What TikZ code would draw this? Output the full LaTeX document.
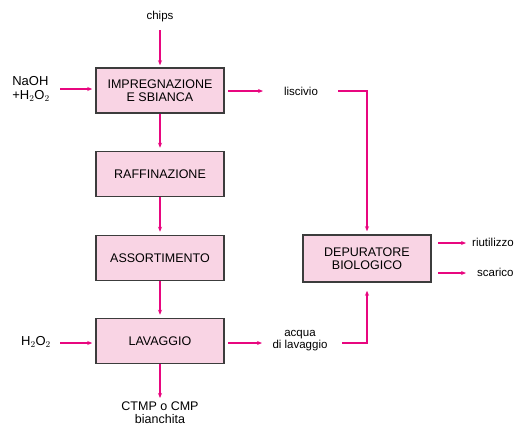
\documentclass[tikz,border=0pt]{standalone}
\usepackage{fontspec}
\setmainfont{Liberation Sans}
\usetikzlibrary{arrows.meta}
\definecolor{boxfill}{HTML}{F9D4E4}
\definecolor{flow}{HTML}{E8067F}
\definecolor{edge}{HTML}{3C3C3C}
\begin{document}
\begin{tikzpicture}[x=1pt,y=-1pt,
  procbox/.style={draw=edge,line width=1.5pt,fill=boxfill,minimum width=128pt,minimum height=45pt,inner sep=0pt,align=center,font=\fontsize{12.5}{13.5}\selectfont},
  lbl/.style={inner sep=1pt,font=\fontsize{11.5}{12}\selectfont},
  flowline/.style={draw=flow,line width=1.3pt,-{Stealth[length=5pt,width=4pt]}}]
\useasboundingbox (0,0) rectangle (523,429);
\node[procbox] (imp) at (160,90.5) {IMPREGNAZIONE\\E SBIANCA};
\node[procbox] (raf) at (160,174) {RAFFINAZIONE};
\node[procbox] (ass) at (160,258) {ASSORTIMENTO};
\node[procbox] (lav) at (160,341) {LAVAGGIO};
\node[procbox,minimum height=47pt] (dep) at (367,258.5) {DEPURATORE\\BIOLOGICO};
\node[lbl] (chips) at (160,17) {chips};
\node[lbl,align=left,font=\fontsize{13}{14}\selectfont] (naoh) at (31,89) {NaOH\\+H$_2$O$_2$};
\node[lbl] (lisc) at (301,91) {liscivio};
\node[lbl,align=center,font=\fontsize{11.5}{12}\selectfont] (acq) at (300,341) {acqua\\di lavaggio};
\node[lbl,font=\fontsize{13}{14}\selectfont] (h2o2) at (36,342) {H$_2$O$_2$};
\node[lbl,anchor=west] (riut) at (471,242) {riutilizzo};
\node[lbl,anchor=west] (scar) at (476,272) {scarico};
\node[lbl,inner sep=0pt,align=center,anchor=north,font=\fontsize{12.5}{13}\selectfont] (ctmp) at (160,401.5) {CTMP o CMP\\bianchita};
\coordinate (c1) at (160,30);
\coordinate (n1) at (60,89);
\coordinate (l1) at (228,91);
\coordinate (l2) at (263,91);
\coordinate (l3) at (338,91);
\coordinate (h1) at (60,343);
\coordinate (w1) at (228,343);
\coordinate (w2) at (262,343);
\coordinate (w3) at (342,343);
\coordinate (r1) at (438,243);
\coordinate (r2) at (466,243);
\coordinate (s1) at (438,273);
\coordinate (s2) at (466,273);
\coordinate (o1) at (160,398);
\draw[flowline,shorten >=2pt] (c1) -- (imp.north);
\draw[flowline,shorten >=3pt] (n1) -- (n1 -| imp.west);
\draw[flowline] (l1) -- (l2);
\draw[flowline,shorten >=3pt] (l3) -| (dep.north);
\draw[flowline,shorten >=3pt] (imp.south) -- (raf.north);
\draw[flowline,shorten >=3pt] (raf.south) -- (ass.north);
\draw[flowline,shorten >=3pt] (ass.south) -- (lav.north);
\draw[flowline,shorten >=3pt] (h1) -- (h1 -| lav.west);
\draw[flowline] (w1) -- (w2);
\draw[flowline,shorten >=8pt] (w3) -| (dep.south);
\draw[flowline] (r1) -- (r2);
\draw[flowline] (s1) -- (s2);
\draw[flowline] (lav.south) -- (o1);
\end{tikzpicture}
\end{document}
